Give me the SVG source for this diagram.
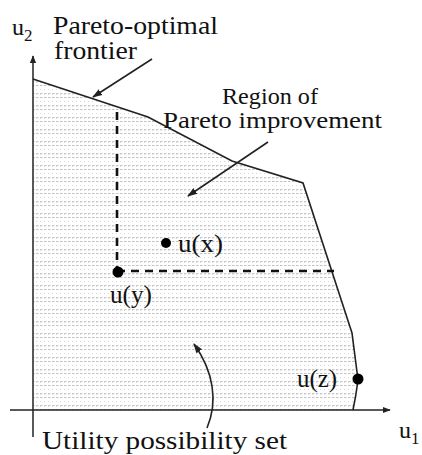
<svg xmlns="http://www.w3.org/2000/svg" width="422" height="455" viewBox="0 0 422 455">
<style>
.lbl{font-size:25px}
.ax{stroke:#222;stroke-width:1.5;fill:none}
.ln{stroke:#222;stroke-width:1.6;fill:none}
.dash{stroke:#111;stroke-width:2.6;stroke-dasharray:8 6;fill:none}
.dot{fill:#000}
</style>
<defs>
<pattern id="dots" width="4" height="12" patternUnits="userSpaceOnUse">
<rect x="0" y="1" width="2.5" height="1" fill="#c2c2c2"/>
<rect x="0" y="5" width="1" height="1" fill="#d6d6d6"/>
<rect x="0" y="9" width="2.5" height="1" fill="#cacaca"/>
<rect x="0" y="10" width="1.5" height="1" fill="#dedede"/>
</pattern>
<marker id="ah" viewBox="0 0 10 10" refX="9" refY="5" markerWidth="8" markerHeight="8" markerUnits="userSpaceOnUse" orient="auto">
<path d="M0,1 L10,5 L0,9 Z" fill="#222"/>
</marker>
<marker id="ah2" viewBox="0 0 10 10" refX="9" refY="5" markerWidth="10" markerHeight="10" markerUnits="userSpaceOnUse" orient="auto">
<path d="M0,1.5 L10,5 L0,8.5 Z" fill="#222"/>
</marker>
</defs>
<g id="region">
<path d="M33,79 L148,117 L232,161 L303,183 L352,333 L358,380 Q356,396 353,410 L33,410 Z" fill="url(#dots)"/>
<path d="M33,79 L148,117 L232,161 L303,183 L352,333 L358,380 Q356,396 353,410" class="ln"/>
</g>
<g id="connectors">
<line x1="117" y1="112" x2="117" y2="271" class="dash"/>
<line x1="117" y1="271" x2="334" y2="271" class="dash"/>
<line x1="152" y1="59" x2="93" y2="97" class="ln" marker-end="url(#ah2)"/>
<line x1="268" y1="142" x2="188" y2="196" class="ln" marker-end="url(#ah2)"/>
<path d="M207,428 C218,402 214,372 194,344" class="ln" marker-end="url(#ah2)"/>
</g>
<g font-family="Liberation Serif, Times New Roman, DejaVu Serif, serif" fill="#111">
<g id="axes">
<line x1="33" y1="437" x2="33" y2="56" class="ax" marker-end="url(#ah)"/>
<line x1="10" y1="410" x2="390" y2="410" class="ax" marker-end="url(#ah)"/>
<text x="12" y="35" font-size="24">u<tspan font-size="17" dy="6">2</tspan></text>
<text x="399" y="438" font-size="24">u<tspan font-size="17" dy="6">1</tspan></text>
</g>
<g id="frontier-label"><text class="lbl" x="53" y="34" textLength="165" lengthAdjust="spacingAndGlyphs">Pareto-optimal</text><text class="lbl" x="54" y="59" textLength="83" lengthAdjust="spacingAndGlyphs">frontier</text></g>
<g id="region-label"><text x="222" y="104" font-size="23" textLength="96" lengthAdjust="spacingAndGlyphs">Region of</text><text x="163" y="128" font-size="23" textLength="219" lengthAdjust="spacingAndGlyphs">Pareto improvement</text></g>
<g id="ux"><circle cx="166" cy="243" r="5" class="dot"/><text class="lbl" x="178" y="252" textLength="45" lengthAdjust="spacingAndGlyphs">u(x)</text></g>
<g id="uy"><circle cx="118" cy="272" r="5.5" class="dot"/><text class="lbl" x="110" y="303" textLength="42" lengthAdjust="spacingAndGlyphs">u(y)</text></g>
<g id="uz"><circle cx="358" cy="379" r="5.5" class="dot"/><text class="lbl" x="297" y="387" textLength="40" lengthAdjust="spacingAndGlyphs">u(z)</text></g>
<g id="ups"><text class="lbl" x="42" y="449" textLength="245" lengthAdjust="spacingAndGlyphs">Utility possibility set</text></g>
</g>
</svg>
